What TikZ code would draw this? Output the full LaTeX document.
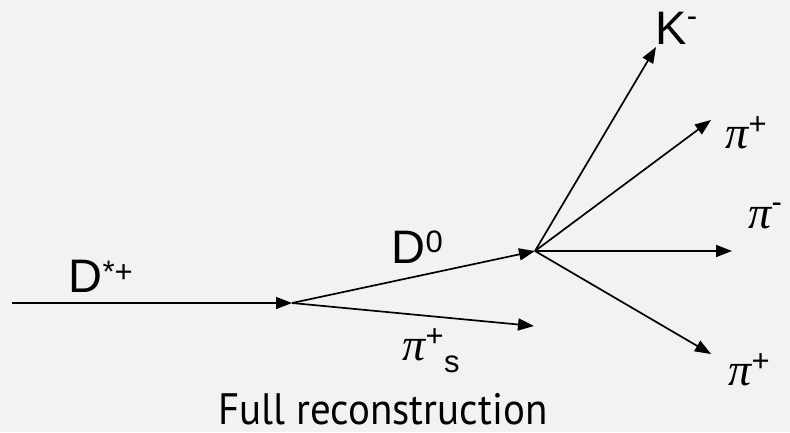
\documentclass[tikz,border=0pt]{standalone}
\usepackage{fontspec}
\setmainfont{Liberation Sans}
\newfontfamily\grk{Liberation Serif}
\newfontfamily\capfont{PT Sans}
\usetikzlibrary{arrows.meta}
\definecolor{bg}{HTML}{F2F2F2}
\tikzset{
  trk/.style={line width=1.7pt,-{Triangle[length=16pt,width=12pt]}},
  lbl/.style={anchor=base west,inner sep=0pt,font=\fontsize{47}{50}\selectfont},
  pilbl/.style={anchor=base west,inner sep=0pt,font=\fontsize{46}{50}\selectfont\grk\itshape},
  sup/.style={anchor=base west,inner sep=0pt,font=\fontsize{31}{33}\selectfont},
}
\begin{document}
\begin{tikzpicture}[x=1pt,y=-1pt]
\fill[bg] (0,0) rectangle (790,432);
\useasboundingbox (0,0) rectangle (790,432);
\coordinate (in) at (12,303);
\coordinate (A) at (292,303);
\coordinate (B) at (535,251);
\coordinate (ps) at (534,326);
\coordinate (K) at (656,47);
\coordinate (p1) at (711,120);
\coordinate (p2) at (732,251);
\coordinate (p3) at (711,354);
\draw[trk] (in) -- (A);
\draw[trk] (A) -- (B);
\draw[trk] (A) -- (ps);
\draw[trk] (B) -- (K);
\draw[trk] (B) -- (p1);
\draw[trk] (B) -- (p2);
\draw[trk] (B) -- (p3);
% labels
\node[lbl] (dstar) at (68,292) {D};
\node[sup] (dstarsup) at (dstar.base east) [yshift=10pt] {*+};
\node[lbl] (d0) at (391,263) {D};
\node[sup] (d0sup) at (d0.base east) [yshift=11pt] {0};
\node[lbl] (k) at (655,44) {K};
\node[sup] (ksup) at (k.base east) [yshift=18pt] {-};
\node[pilbl] (pia) at (725,148) {π};
\node[sup] (piasup) at (pia.base east) [yshift=14pt] {+};
\node[pilbl] (pib) at (748,228) {π};
\node[sup] (pibsup) at (pib.base east) [yshift=16pt] {-};
\node[pilbl] (pic) at (728,385) {π};
\node[sup] (picsup) at (pic.base east) [yshift=14pt] {+};
\node[pilbl] (pis) at (402,360) {π};
\node[sup] (pissup) at (pis.base east) [yshift=14pt] {+};
\node[sup] (pissub) at (pissup.base east) [yshift=-26pt] {s};
\node[anchor=base,inner sep=0pt,font=\fontsize{44}{46}\selectfont\capfont] (cap) at (383,424) {\scalebox{0.93}[1]{Full reconstruction}};
\end{tikzpicture}
\end{document}
